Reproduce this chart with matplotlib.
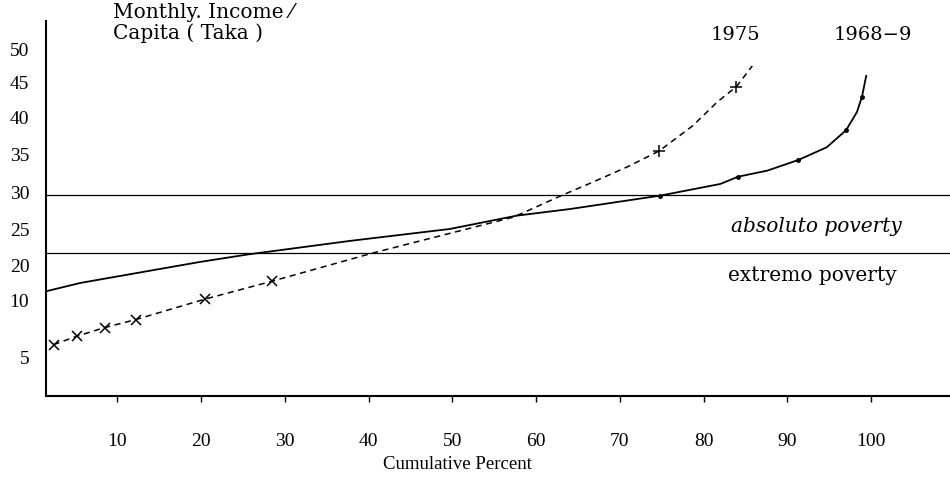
import numpy as np
import matplotlib
matplotlib.use("Agg")
import matplotlib.pyplot as plt

plt.rcParams['font.family'] = ['Liberation Serif', 'DejaVu Serif']

# 1968-9 curve (cumulative percent, monthly income per capita)
x_6869 = [1.65, 5.6, 19.9, 25.8, 37.8, 49.7, 57.7, 64.1, 74.8, 82.0, 84.1, 87.6, 91.3, 94.7, 97.0, 98.3, 98.9, 99.4]
y_6869 = [12.3, 14.6, 20.3, 21.4, 23.3, 25.0, 26.8, 27.7, 29.5, 31.05, 32.0, 32.8, 34.2, 35.9, 38.2, 40.7, 42.9, 45.9]
dot_x_6869 = [74.8, 84.1, 91.3, 97.0, 98.9]
dot_y_6869 = [29.5, 32.0, 34.2, 38.2, 42.9]

# 1975 curve
x_1975 = [2.4, 5.2, 8.5, 12.2, 20.5, 28.5, 40.6, 57.3, 63.2, 66.8, 70.9, 74.7, 78.7, 81.6, 83.9, 85.8]
y_1975 = [6.0, 6.75, 7.5, 8.2, 10.0, 15.1, 21.6, 26.6, 29.6, 31.3, 33.3, 35.4, 38.8, 42.1, 44.3, 47.4]
cross_x_1975 = [2.4, 5.2, 8.5, 12.2, 20.5, 28.5]
cross_y_1975 = [6.0, 6.75, 7.5, 8.2, 10.0, 15.1]
plus_x_1975 = [74.7, 83.9]
plus_y_1975 = [35.4, 44.3]

# poverty lines
absolute_line = 29.6
extreme_line = 21.6

xticks = [10, 20, 30, 40, 50, 60, 70, 80, 90, 100]
yticks = [5, 10, 20, 25, 30, 35, 40, 45, 50]

# uneven vertical axis of the original drawing (value -> height)
scale_vals = [0, 5, 10, 20, 25, 30, 35, 40, 45, 50, 60]
scale_pos = [75, 132, 189, 224, 259, 296, 334, 371, 406, 439, 505]


def fwd(v):
    return np.interp(v, scale_vals, scale_pos)


def inv(p):
    return np.interp(p, scale_pos, scale_vals)


fig = plt.figure(figsize=(9.5, 4.89), dpi=100)
ax = fig.add_axes([0.0484, 0.188, 0.9516, 0.767])
ax.set_yscale('function', functions=(fwd, inv))

ax.axhline(absolute_line, color='black', lw=0.9)
ax.axhline(extreme_line, color='black', lw=0.9)

ax.plot(x_6869, y_6869, color='black', lw=1.3)
ax.plot(dot_x_6869, dot_y_6869, 'o', color='black', ms=2.5)

ax.plot(x_1975, y_1975, color='black', lw=1.1, ls=(0, (4, 3)))
ax.plot(cross_x_1975, cross_y_1975, 'x', color='black', ms=7, mew=1.1)
ax.plot(plus_x_1975, plus_y_1975, '+', color='black', ms=9, mew=1.1)

ax.set_xlim(1.5, 109.4)
ax.set_ylim(1.5, 54.2)

ax.set_xticks(xticks)
ax.set_yticks(yticks)
ax.set_yticklabels([str(t) for t in yticks])
ax.minorticks_off()
ax.tick_params(axis='x', direction='out', length=4, width=1, pad=22, labelsize=14)
ax.tick_params(axis='y', length=0, pad=12, labelsize=14)

for s in ['top', 'right']:
    ax.spines[s].set_visible(False)
ax.spines['left'].set_linewidth(1.5)
ax.spines['bottom'].set_linewidth(1.5)

ann = dict(family='DejaVu Serif', va='center')
ax.text(9.5, 55.6, 'Monthly. Income \u2044', fontsize=14.5, **ann)
ax.text(9.5, 52.5, 'Capita ( Taka )', fontsize=14.5, **ann)
ax.text(83.8, 52.3, '1975', fontsize=14, ha='center', **ann)
ax.text(100.2, 52.3, '1968\u22129', fontsize=14, ha='center', **ann)
ax.text(93.4, 25.5, 'absoluto poverty', fontsize=14.5, style='italic', ha='center', **ann)
ax.text(93.0, 17.0, 'extremo poverty', fontsize=14.5, ha='center', **ann)

fig.text(457 / 950, 1 - 465 / 489, 'Cumulative Percent', fontsize=13.5, ha='center', va='center')

fig.savefig('out.png', dpi=100)
